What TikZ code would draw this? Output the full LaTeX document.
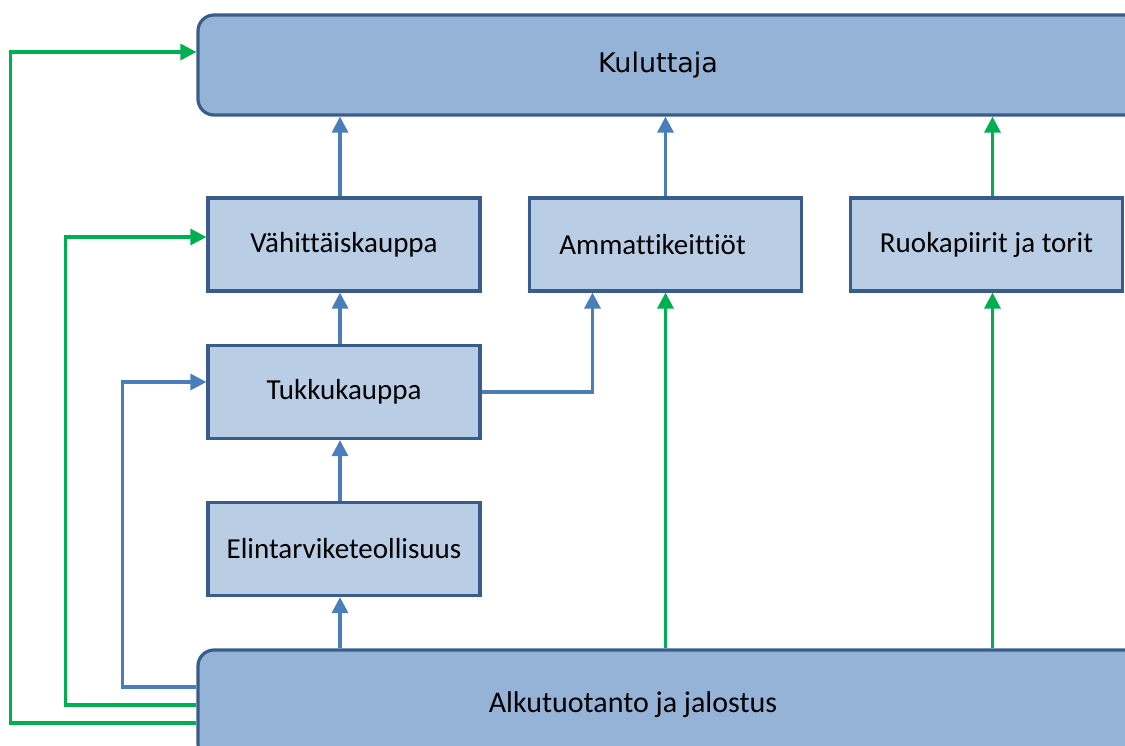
\documentclass[tikz,border=0pt]{standalone}
\usepackage{fontspec}
\setmainfont{Carlito}[Ligatures={NoCommon}]
\newfontfamily\widefont{DejaVu Sans}
\usetikzlibrary{arrows.meta}
\usetikzlibrary{positioning}

\definecolor{boxedge}{HTML}{385D8A}
\definecolor{darkfill}{HTML}{95B3D7}
\definecolor{lightfill}{HTML}{B9CDE5}
\definecolor{flowblue}{HTML}{4A7EBB}
\definecolor{flowgreen}{HTML}{00B050}

\begin{document}
\begin{tikzpicture}[x=1pt, y=-1pt,
  bigbox/.style={rectangle, rounded corners=16pt, draw=boxedge, line width=3.2pt, fill=darkfill,
    minimum width=#1, minimum height=100pt, font=\fontsize{30}{34}\selectfont},
  smallbox/.style={rectangle, draw=boxedge, line width=3.2pt, fill=lightfill,
    minimum width=272pt, minimum height=93pt, font=\fontsize{29}{33}\selectfont},
  blueflow/.style={draw=flowblue, line width=3.2pt, -{Triangle[width=16pt,length=16pt]}},
  greenflow/.style={draw=flowgreen, line width=3.2pt, -{Triangle[width=16pt,length=16pt]}}]
  \useasboundingbox (0,0) rectangle (1125,746);

  %% top and bottom
  \node[bigbox=942pt, font=\widefont\fontsize{27}{31}\selectfont] (kulu) at (669, 65) {\hspace*{-22pt}Kuluttaja};
  \node[bigbox=942pt, minimum height=110pt] (alku) at (669, 705) {\hspace*{-72pt}Alkutuotanto ja jalostus};

  %% middle row
  \node[smallbox] (vahi) at (344, 244.5) {Vähittäiskauppa};
  \node[smallbox] (amma) at (665.5, 244.5) {\hspace*{-26pt}Ammattikeittiöt};
  \node[smallbox] (ruok) at (986.5, 244.5) {Ruokapiirit ja torit};

  %% left column
  \node[smallbox] (tukk) at (344, 392) {Tukkukauppa};
  \node[smallbox] (elin) at (344, 549) {Elintarviketeollisuus};

  %% upward chain
  \draw[blueflow] ([xshift=-4pt]alku.north -| elin.south) -- ([xshift=-4pt]elin.south);
  \draw[blueflow] ([xshift=-4pt]elin.north) -- ([xshift=-4pt]tukk.south);
  \draw[blueflow] ([xshift=-4pt]tukk.north) -- ([xshift=-4pt]vahi.south);
  \draw[blueflow] ([xshift=-4pt]vahi.north) -- ([xshift=-4pt]vahi.north |- kulu.south);
  \draw[blueflow] (amma.north) -- (amma.north |- kulu.south);
  \draw[greenflow] ([xshift=6pt]ruok.north) -- ([xshift=6pt]ruok.north |- kulu.south);

  %% from primary production
  \draw[greenflow] (amma.south |- alku.north) -- (amma.south);
  \draw[greenflow] ([xshift=6pt]ruok.south |- alku.north) -- ([xshift=6pt]ruok.south);

  %% wholesale to kitchens
  \draw[blueflow] (tukk.east) -| ([xshift=-73pt]amma.south);

  %% side loops
  \draw[blueflow] ([yshift=18pt]alku.west) -- ++(-74,0) |- ([yshift=10pt]tukk.west);
  \draw[greenflow] (alku.west) -- ++(-131,0) |- ([yshift=7.5pt]vahi.west);
  \draw[greenflow] ([yshift=-18pt]alku.west) -- ++(-186,0) |- ([yshift=13pt]kulu.west);
\end{tikzpicture}
\end{document}
